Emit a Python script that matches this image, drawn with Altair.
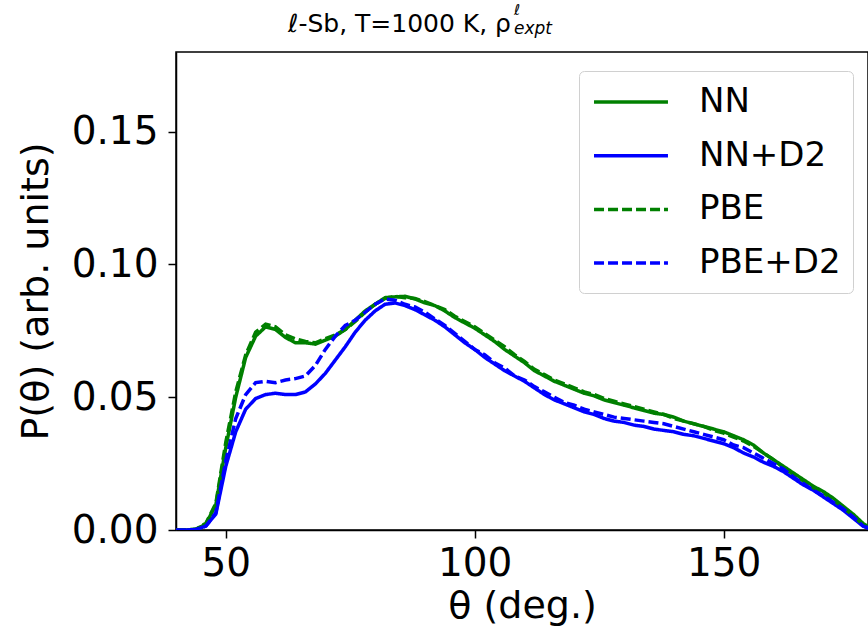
import altair as alt
import pandas as pd

theta = list(range(40, 181, 2))

nn = [0.0, 0.0, 0.0003, 0.0022, 0.0095, 0.031, 0.050, 0.065, 0.073, 0.0765,
      0.0755, 0.0725, 0.0705, 0.0705, 0.070, 0.0715, 0.073, 0.0755, 0.079, 0.0825,
      0.085, 0.0875, 0.0878, 0.088, 0.087, 0.0855, 0.0845, 0.0825, 0.080, 0.078,
      0.076, 0.0735, 0.071, 0.068, 0.0655, 0.063, 0.060, 0.058, 0.056, 0.0545,
      0.053, 0.0515, 0.0505, 0.049, 0.048, 0.047, 0.046, 0.045, 0.044, 0.0435,
      0.0425, 0.041, 0.040, 0.039, 0.038, 0.037, 0.0355, 0.034, 0.032, 0.029,
      0.0265, 0.024, 0.0215, 0.019, 0.0165, 0.0145, 0.012, 0.009, 0.006, 0.0025,
      0.0]

nn_d2 = [0.0, 0.0, 0.0002, 0.0015, 0.006, 0.024, 0.037, 0.0455, 0.0495, 0.051,
         0.0515, 0.051, 0.051, 0.052, 0.055, 0.059, 0.064, 0.069, 0.0745, 0.079,
         0.0825, 0.085, 0.0855, 0.0845, 0.083, 0.081, 0.079, 0.0765, 0.0735, 0.0705,
         0.068, 0.065, 0.0625, 0.060, 0.058, 0.056, 0.0535, 0.051, 0.049, 0.0475,
         0.046, 0.0445, 0.0435, 0.042, 0.041, 0.0405, 0.0395, 0.039, 0.038, 0.0375,
         0.037, 0.036, 0.0355, 0.0345, 0.0335, 0.0325, 0.031, 0.029, 0.0275, 0.0255,
         0.024, 0.022, 0.0195, 0.017, 0.015, 0.0125, 0.010, 0.0075, 0.0045, 0.0015,
         0.0]

pbe = [0.0, 0.0, 0.0003, 0.0025, 0.010, 0.033, 0.052, 0.066, 0.0745, 0.0775,
       0.0765, 0.0735, 0.072, 0.071, 0.0705, 0.072, 0.0735, 0.0755, 0.0785, 0.082,
       0.085, 0.0872, 0.088, 0.0875, 0.0872, 0.086, 0.0845, 0.083, 0.0805, 0.0785,
       0.0765, 0.074, 0.0715, 0.069, 0.066, 0.0635, 0.0605, 0.0585, 0.0565, 0.055,
       0.0535, 0.052, 0.051, 0.0495, 0.0485, 0.0475, 0.0465, 0.0455, 0.0445, 0.0435,
       0.042, 0.041, 0.040, 0.039, 0.0375, 0.0365, 0.035, 0.0335, 0.0315, 0.029,
       0.0265, 0.0235, 0.021, 0.0185, 0.016, 0.014, 0.0115, 0.0085, 0.0055, 0.002,
       0.0]

pbe_d2 = [0.0, 0.0, 0.0002, 0.0015, 0.0065, 0.026, 0.042, 0.051, 0.0555, 0.056,
          0.0555, 0.0565, 0.057, 0.058, 0.062, 0.068, 0.073, 0.077, 0.079, 0.082,
          0.085, 0.087, 0.0865, 0.085, 0.084, 0.082, 0.0795, 0.077, 0.074, 0.071,
          0.068, 0.066, 0.063, 0.061, 0.058, 0.0565, 0.054, 0.052, 0.050, 0.048,
          0.047, 0.0455, 0.0445, 0.0435, 0.0425, 0.042, 0.0415, 0.041, 0.0405, 0.040,
          0.039, 0.038, 0.037, 0.036, 0.035, 0.034, 0.032, 0.031, 0.029, 0.027,
          0.025, 0.023, 0.020, 0.0175, 0.015, 0.013, 0.0105, 0.008, 0.005, 0.0015,
          0.0]

series_names = ["NN", "NN+D2", "PBE", "PBE+D2"]
series_values = [nn, nn_d2, pbe, pbe_d2]
series_colors = ["#008000", "#0000ff", "#008000", "#0000ff"]
series_dash = [[1, 0], [1, 0], [10, 4], [10, 4]]
series_width = [3.5, 3.5, 2.6, 2.6]

y_ticks = [0.0, 0.05, 0.10, 0.15]
x_ticks = [50, 100, 150]

rows = []
for name, vals in zip(series_names, series_values):
    for t, v in zip(theta, vals):
        rows.append({"theta": t, "P": v, "series": name})
df = pd.DataFrame(rows)

FONT = "DejaVu Sans"
W, H = 692, 478


def make_legend():
    return alt.Legend(
        title=None, orient="none", legendX=403, legendY=19,
        symbolType="M-0.94,0H3.41", symbolSize=1156,
        labelFontSize=34, labelFont=FONT, labelColor="black", labelOffset=70,
        rowPadding=17.7, padding=12,
        fillColor="white", strokeColor="#d0d0d0", cornerRadius=5,
    )


lines = alt.Chart(df).mark_line(clip=True).encode(
    x=alt.X("theta:Q",
            scale=alt.Scale(domain=[40, 179], nice=False, zero=False),
            axis=alt.Axis(values=x_ticks, title="θ (deg.)", grid=False,
                          labelFontSize=39, titleFontSize=38, tickSize=8,
                          labelPadding=6, titlePadding=4, labelFlush=False)),
    y=alt.Y("P:Q",
            scale=alt.Scale(domain=[0, 0.18], nice=False),
            axis=alt.Axis(values=y_ticks, format=".2f", title="P(θ) (arb. units)",
                          grid=False, labelFontSize=39, titleFontSize=38, tickSize=8,
                          labelPadding=10, titlePadding=16, labelFlush=False)),
    color=alt.Color("series:N",
                    scale=alt.Scale(domain=series_names, range=series_colors),
                    legend=make_legend()),
    strokeDash=alt.StrokeDash("series:N",
                              scale=alt.Scale(domain=series_names, range=series_dash),
                              legend=make_legend()),
    strokeWidth=alt.StrokeWidth("series:N",
                                scale=alt.Scale(domain=series_names, range=series_width),
                                legend=make_legend()),
)

title_main = alt.Chart(pd.DataFrame({"t": ["ℓ-Sb, T=1000 K, ρ"]})).mark_text(
    align="right", baseline="alphabetic", fontSize=25, font=FONT, color="black"
).encode(text="t:N", x=alt.value(335), y=alt.value(-20))

title_sup = alt.Chart(pd.DataFrame({"t": ["ℓ"]})).mark_text(
    align="left", baseline="alphabetic", fontSize=15, font=FONT, fontStyle="italic", color="black"
).encode(text="t:N", x=alt.value(338), y=alt.value(-37))

title_sub = alt.Chart(pd.DataFrame({"t": ["expt"]})).mark_text(
    align="left", baseline="alphabetic", fontSize=17, font=FONT, fontStyle="italic", color="black"
).encode(text="t:N", x=alt.value(338), y=alt.value(-18))

chart = alt.layer(lines, title_main, title_sup, title_sub).properties(
    width=W, height=H,
    autosize=alt.AutoSizeParams(type="none"),
    padding={"left": 176, "top": 52, "right": 0, "bottom": 108},
    background="white",
).configure_axis(
    labelFont=FONT, titleFont=FONT, labelColor="black", titleColor="black",
    domainColor="black", tickColor="black", domainWidth=1.5, tickWidth=1.5,
    titleFontWeight="normal",
).configure_view(stroke="black", strokeWidth=1.5)

chart.save("out.html", embed_options={"renderer": "svg", "actions": False})
